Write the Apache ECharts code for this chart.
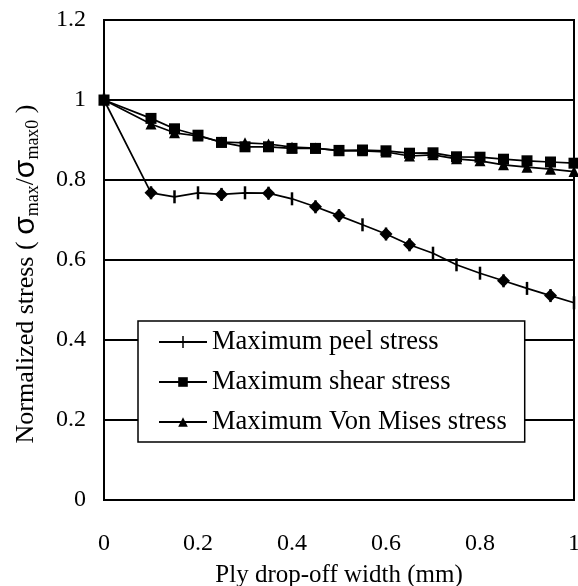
<!DOCTYPE html>
<html>
<head>
<meta charset="utf-8">
<script src="https://cdn.jsdelivr.net/npm/echarts@6/dist/echarts.min.js"></script>
<style>
    html, body { margin: 0; padding: 0; background: #fff; }
    #p1 { width: 578px; height: 586px; }
</style>
</head>
<body>
<div id="p1"></div>
<script>
// ply drop-off width (mm)
var widths = [0, 0.1, 0.15, 0.2, 0.25, 0.3, 0.35, 0.4, 0.45, 0.5, 0.55, 0.6, 0.65, 0.7, 0.75, 0.8, 0.85, 0.9, 0.95, 1.0];
var peelStress = [1, 0.768, 0.758, 0.768, 0.764, 0.768, 0.767, 0.753, 0.733, 0.711, 0.688, 0.665, 0.638, 0.617, 0.588, 0.567, 0.548, 0.529, 0.511, 0.493];
var shearStress = [1, 0.954, 0.928, 0.912, 0.894, 0.883, 0.883, 0.879, 0.879, 0.874, 0.875, 0.873, 0.867, 0.868, 0.858, 0.857, 0.852, 0.848, 0.845, 0.842];
var vonMisesStress = [1, 0.94, 0.918, 0.91, 0.895, 0.893, 0.89, 0.882, 0.88, 0.873, 0.873, 0.87, 0.86, 0.863, 0.853, 0.848, 0.838, 0.832, 0.827, 0.821];
// points of the peel curve that carry a diamond marker in the original (hidden series)
var diamondWidths = [0.1, 0.25, 0.35, 0.45, 0.5, 0.6, 0.65, 0.85, 0.95];
var diamondValues = [0.768, 0.764, 0.767, 0.733, 0.711, 0.665, 0.638, 0.548, 0.511];
var seriesNames = ['Maximum peel stress', 'Maximum shear stress', 'Maximum Von Mises stress'];

function pairs(xs, ys) {
    var out = [];
    for (var i = 0; i < xs.length; i++) {
        out.push([xs[i], ys[i]]);
    }
    return out;
}

var serif = 'Liberation Serif';
// legend icon for the peel curve: line with a small vertical tick
var peelIcon = 'path://M0,10 L46.5,10 L46.5,0 L49.5,0 L49.5,10 L96,10 L96,14 L49.5,14 L49.5,24 L46.5,24 L46.5,14 L0,14 Z';

var myChart1 = echarts.init(document.getElementById("p1"));
var option1 = {
    backgroundColor: '#fff',
    animation: false,
    textStyle: {
        fontFamily: serif,
        color: '#000'
    },
    grid: {
        left: 104,
        right: 4,
        top: 20,
        bottom: 86,
        outerBoundsMode: 'none',
        show: true,
        borderColor: '#000',
        borderWidth: 2
    },
    legend: {
        data: [
            {name: seriesNames[0], icon: peelIcon},
            {name: seriesNames[1]},
            {name: seriesNames[2]}
        ],
        orient: 'vertical',
        left: 138,
        top: 321,
        padding: [6, 18, 5, 20],
        itemGap: 10,
        itemWidth: 48,
        itemHeight: 12,
        backgroundColor: '#fff',
        borderColor: '#000',
        borderWidth: 1.5,
        textStyle: {
            fontFamily: serif,
            fontSize: 26.5,
            lineHeight: 30,
            color: '#000'
        }
    },
    xAxis: {
        type: 'value',
        min: 0,
        max: 1,
        interval: 0.2,
        name: 'Ply drop-off width (mm)',
        nameLocation: 'middle',
        nameGap: 63,
        nameTextStyle: {
            fontFamily: serif,
            fontSize: 25,
            color: '#000'
        },
        axisLine: {
            lineStyle: { color: '#000', width: 2 }
        },
        axisTick: { show: false },
        splitLine: { show: false },
        axisLabel: {
            margin: 32,
            fontFamily: serif,
            fontSize: 24,
            color: '#000'
        }
    },
    yAxis: {
        type: 'value',
        min: 0,
        max: 1.2,
        interval: 0.2,
        name: 'Normalized stress ( {g|σ}{sub|max}/{g|σ}{sub|max0} )',
        nameLocation: 'middle',
        nameGap: 62,
        nameTextStyle: {
            fontFamily: serif,
            fontSize: 26,
            color: '#000',
            padding: [0, 28, 0, 0],
            rich: {
                g: {
                    fontFamily: 'Liberation Sans',
                    fontSize: 30,
                    color: '#000'
                },
                sub: {
                    fontFamily: serif,
                    fontSize: 18,
                    color: '#000',
                    padding: [14, 0, 0, 0]
                }
            }
        },
        axisLine: {
            lineStyle: { color: '#000', width: 2 }
        },
        axisTick: { show: false },
        splitLine: {
            show: true,
            lineStyle: { color: '#000', width: 2 }
        },
        axisLabel: {
            margin: 18,
            fontFamily: serif,
            fontSize: 24,
            color: '#000'
        }
    },
    series: [
        {
            name: seriesNames[0],
            type: 'line',
            data: pairs(widths, peelStress),
            symbol: 'rect',
            symbolSize: [2.5, 13],
            color: '#000',
            lineStyle: { color: '#000', width: 1.7 },
            z: 3
        },
        {
            name: seriesNames[1],
            type: 'line',
            data: pairs(widths, shearStress),
            symbol: 'rect',
            symbolSize: 11,
            color: '#000',
            lineStyle: { color: '#000', width: 1.7 },
            z: 3
        },
        {
            name: seriesNames[2],
            type: 'line',
            data: pairs(widths, vonMisesStress),
            symbol: 'triangle',
            symbolSize: 11,
            color: '#000',
            lineStyle: { color: '#000', width: 1.7 },
            z: 3
        },
        {
            name: 'peel diamonds',
            type: 'line',
            data: pairs(diamondWidths, diamondValues),
            symbol: 'diamond',
            symbolSize: 13,
            color: '#000',
            lineStyle: { width: 0, opacity: 0 },
            z: 4
        }
    ]
};
myChart1.setOption(option1);
</script>
</body>
</html>
